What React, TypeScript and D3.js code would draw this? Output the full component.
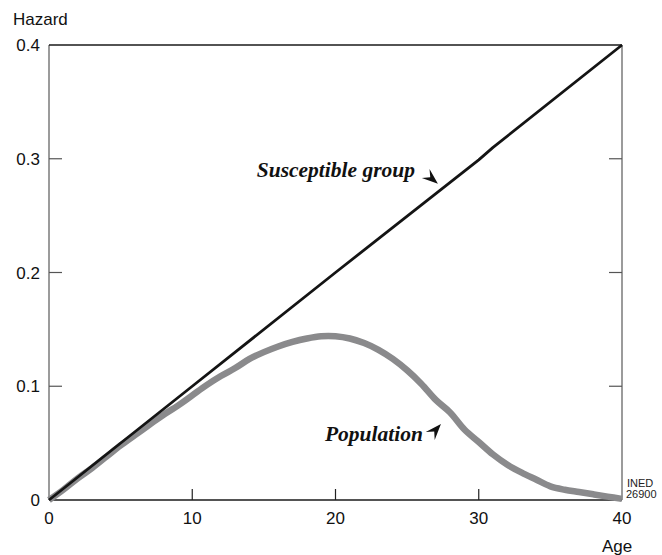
import * as d3 from 'd3'

const ages = [0, 1, 2, 3, 4, 5, 6, 7, 8, 9, 10, 11, 12, 13, 14, 15, 16, 17, 18, 19, 20, 21, 22, 23, 24, 25, 26, 27, 28, 29, 30, 31, 32, 33, 34, 35, 36, 37, 38, 39, 40]
const populationHazard = [
  0, 0.009, 0.019, 0.028, 0.038, 0.048, 0.057, 0.066, 0.075, 0.083, 0.092, 0.101, 0.109, 0.116, 0.124, 0.13,
  0.135, 0.139, 0.142, 0.144, 0.144, 0.142, 0.138, 0.132, 0.124, 0.114, 0.102, 0.088, 0.077, 0.062, 0.051,
  0.04, 0.031, 0.024, 0.018, 0.012, 0.009, 0.007, 0.005, 0.003, 0.001,
]
const susceptibleAges = [0, 10, 20, 30, 31, 40]
const susceptibleHazard = [0, 0.1, 0.2, 0.299, 0.31, 0.4]
const xTicks = [0, 10, 20, 30, 40]
const yTicks = [0, 0.1, 0.2, 0.3, 0.4]
const yTickLabels = ['0', '0.1', '0.2', '0.3', '0.4']

const W = 662
const H = 555
const plot = { left: 49, right: 622, top: 45, bottom: 500 }
const sans = 'Liberation Sans, Arial, sans-serif'
const serif = 'Liberation Serif, Times New Roman, serif'

// small notched arrowhead, tip at (tx, ty), pointing along angleDeg
function arrowHead(tx: number, ty: number, angleDeg: number) {
  const a = (angleDeg * Math.PI) / 180
  const dx = Math.cos(a)
  const dy = Math.sin(a)
  const px = -dy
  const py = dx
  const L = 16
  const hw = 6
  const pts = [
    [tx, ty],
    [tx - L * dx + hw * px, ty - L * dy + hw * py],
    [tx - (L - 6) * dx, ty - (L - 6) * dy],
    [tx - L * dx - hw * px, ty - L * dy - hw * py],
  ]
  return 'M' + pts.map((p) => p.join(',')).join('L') + 'Z'
}

export default function App() {
  const x = d3.scaleLinear().domain([0, 40]).range([plot.left, plot.right])
  const y = d3.scaleLinear().domain([0, 0.4]).range([plot.bottom, plot.top])
  const x0 = x(0)
  const x1 = x(40)
  const y0 = y(0)
  const y1 = y(0.4)

  const popLine = d3
    .line<number>()
    .x((_, i) => x(ages[i]))
    .y((d) => y(d))
    .curve(d3.curveCatmullRom)
  const susLine = d3
    .line<number>()
    .x((_, i) => x(susceptibleAges[i]))
    .y((d) => y(d))

  return (
    <div style={{ position: 'absolute', left: 0, top: 0 }}>
      <svg width={W} height={H} style={{ display: 'block', background: '#fff' }}>
        {/* frame */}
        <line x1={x0} x2={x0} y1={y1} y2={y0} stroke="#7a7a7a" strokeWidth={1.5} />
        <line x1={x1} x2={x1} y1={y1} y2={y0} stroke="#7a7a7a" strokeWidth={1.5} />
        <line x1={x0} x2={x1} y1={y1} y2={y1} stroke="#1a1a1a" strokeWidth={1.5} />
        <line x1={x0} x2={x1} y1={y0} y2={y0} stroke="#1a1a1a" strokeWidth={1.5} />

        {/* y ticks */}
        {yTicks.map((t, i) => (
          <g key={'y' + t}>
            {i > 0 && i < yTicks.length - 1 && (
              <>
                <line x1={x0} x2={x0 + 13} y1={y(t)} y2={y(t)} stroke="#555" strokeWidth={1.2} />
                <line x1={x1 - 13} x2={x1} y1={y(t)} y2={y(t)} stroke="#555" strokeWidth={1.2} />
              </>
            )}
            <text x={40} y={y(t)} dy="0.36em" textAnchor="end" fontFamily={sans} fontSize={17} fill="#111">
              {yTickLabels[i]}
            </text>
          </g>
        ))}

        {/* x ticks */}
        {xTicks.map((t, i) => (
          <g key={'x' + t}>
            {i > 0 && i < xTicks.length - 1 && (
              <line x1={x(t)} x2={x(t)} y1={y0} y2={y0 - 11} stroke="#222" strokeWidth={1.2} />
            )}
            <text x={x(t)} y={y0 + 24} textAnchor="middle" fontFamily={sans} fontSize={17} fill="#111">
              {t}
            </text>
          </g>
        ))}

        {/* axis titles */}
        <text x={13} y={25} fontFamily={sans} fontSize={17} fill="#111">
          Hazard
        </text>
        <text x={x1 - 5} y={552} textAnchor="middle" fontFamily={sans} fontSize={17} fill="#111">
          Age
        </text>

        {/* series */}
        <path d={popLine(populationHazard) ?? ''} fill="none" stroke="#8a8a8c" strokeWidth={6.5} strokeLinejoin="round" />
        <path d={susLine(susceptibleHazard) ?? ''} fill="none" stroke="#141414" strokeWidth={2.8} strokeLinejoin="round" />

        {/* annotations */}
        <text x={x(25.55)} y={y(0.284)} textAnchor="end" fontFamily={serif} fontStyle="italic" fontWeight="bold" fontSize={21.5} fill="#111">
          Susceptible group
        </text>
        <path d={arrowHead(x(27.15), y(0.278), 40)} fill="#111" />
        <text x={x(26.1)} y={y(0.052)} textAnchor="end" fontFamily={serif} fontStyle="italic" fontWeight="bold" fontSize={21.5} fill="#111">
          Population
        </text>
        <path d={arrowHead(x(27.36), y(0.0668), -48)} fill="#111" />

        {/* source */}
        <text x={x1 + 5} y={487} fontFamily={sans} fontSize={11} fill="#222">
          INED
        </text>
        <text x={x1 + 4} y={498} fontFamily={sans} fontSize={11} fill="#222">
          26900
        </text>
      </svg>
    </div>
  )
}
